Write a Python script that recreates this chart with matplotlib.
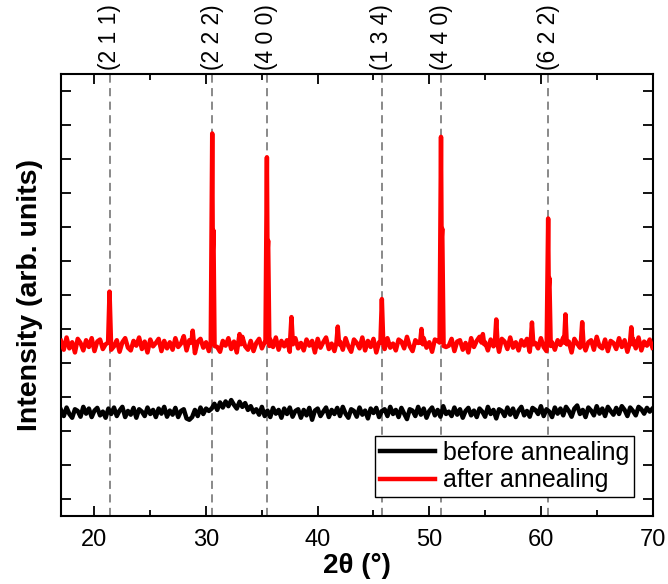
import matplotlib
matplotlib.use('Agg')
import matplotlib.pyplot as plt
import numpy as np

plt.rcParams['font.family'] = ['Liberation Sans', 'DejaVu Sans']

# reflections marked with dashed lines
hkl_labels = ['(2 1 1)', '(2 2 2)', '(4 0 0)', '(1 3 4)', '(4 4 0)', '(6 2 2)']
hkl_pos = [21.35, 30.55, 35.45, 45.75, 51.05, 60.65]

# baseline levels (arb. units) and hand-read wiggles (hundredths), 17..70 deg
after_level = 4.55
after_dev = [10, -16, 20, -12, 6, -24, 16, 4, -18, 12, -8, 18, -20, 8, 14, -14, 0, 24, -16, -6,
             12, -22, 6, 18, -10, -18, 10, -4, 20, -14, 8, -24, 14, -6, 4, 16, -20, 10, -12, 6,
             -16, 18, -8, 2, 24, -18, 12, -12, -26, 8, 16, -10, 6, -20, 14, 20, -8, -22, 10, -4,
             18, -14, 8, -24, 12, 22, -6, -16, 10, -20, 4, 16, -12, 6, -18, 14, -8, 20, -16, 10,
             -6, 12, -22, 8, 18, -12, 4, -18, 14, -4, 10, -24, 16, -10, 6, 20, -14, 2, -20, 12,
             8, -16, 18, -6, -22, 14, 4, -12, 20, -18, 10, -8, 16, -24, 6, 12, -14, 18, -10, 2,
             -18, 14, 8, -12, 22, -6, -20, 12, 4, -16, 18, -10, 6, -22, 14, 10, -14, 20, -8, -4,
             16, -20, 8, 12, -16, 4, -24, 18, -8, 10, 22, -12, 6, -18, 14, -6, 2, -22, 16, 8,
             -14, 20, -10, 6, -18, 12, -4, 16, -22, 10, 4, -12, 18, -8, -20, 14, 6, -16, 12, -2,
             20, -14, 8, -24, 16, 2, -10, 18, -18, 6, 12, -16, 22, -6, -12, 14, -20, 10, 4, -14,
             18, -8, 12, -22, 6, 16, -12, 20, -18, 8, -4, 14, -10]

before_level = 2.55
before_dev = [7, -11, 14, -5, -16, 9, 4, -13, 16, -4, 11, -14, 5, 13, -9, 2, -16, 11, -5, 14,
              -11, 5, 16, -14, 4, -7, 13, -16, 9, 2, -11, 14, -5, 7, -14, 11, -4, 16, -13, 5,
              -7, 13, -14, 4, 9, -18, -22, -14, 7, -11, 14, -5, 11, 4, 11, 25, 7, 29, 14, 32,
              18, 36, 22, 11, 31, 16, 27, 7, 18, 0, 9, -7, 16, -11, 5, -14, 13, -4, 7, -16,
              11, -5, 14, -13, 4, 9, -16, 7, -9, 13, -22, 5, 11, -11, 2, 14, -14, 7, -5, 13,
              -11, 16, -4, -16, 9, 4, -13, 14, -7, 5, -18, 11, -2, 13, -14, 4, 9, -11, 16, -5,
              7, -14, 13, -4, -20, 9, 5, -11, 16, -7, 11, -16, 4, 14, -9, 7, -13, 18, -5, 2,
              -11, 14, -7, 9, -16, 4, 13, -9, 5, -14, 11, 2, -13, 16, -5, 7, -18, 9, 4, -11,
              14, -7, 11, -14, 5, 16, -9, 4, -13, 13, 7, -5, 18, -11, 9, 2, -14, 14, -4, 11,
              -9, 16, 4, -13, 11, 20, -5, 7, -14, 14, 5, -9, 18, -4, 11, -11, 16, 4, -7, 13,
              -5, 18, 7, -11, 14, 4, -9, 16, 9, -4, 13, 2, 11]

# peaks of the annealed film
peak_x = [[21.22, 21.35, 21.48],
          [28.68, 28.8, 28.92],
          [30.42, 30.55, 30.6, 30.66, 30.76],
          [32.88, 33.0, 33.12],
          [35.32, 35.45, 35.5, 35.56, 35.67],
          [37.52, 37.65, 37.78],
          [41.68, 41.8, 41.92],
          [45.62, 45.75, 45.88],
          [49.18, 49.3, 49.42],
          [50.92, 51.05, 51.1, 51.16, 51.28],
          [54.68, 54.8, 54.92],
          [55.88, 56.0, 56.12],
          [59.08, 59.2, 59.32],
          [60.52, 60.65, 60.7, 60.76, 60.88],
          [62.08, 62.2, 62.32],
          [63.58, 63.7, 63.82],
          [67.98, 68.1, 68.22]]
peak_y = [[4.6, 6.1, 4.6],
          [4.6, 4.95, 4.55],
          [4.6, 10.75, 7.3, 7.9, 4.5],
          [4.6, 4.85, 4.55],
          [4.6, 10.05, 7.2, 7.6, 4.5],
          [4.6, 5.35, 4.55],
          [4.6, 5.07, 4.55],
          [4.6, 5.88, 4.55],
          [4.6, 5.0, 4.55],
          [4.6, 10.65, 7.6, 7.95, 4.5],
          [4.6, 4.85, 4.55],
          [4.6, 5.28, 4.55],
          [4.6, 5.19, 4.55],
          [4.6, 8.25, 6.2, 6.5, 4.5],
          [4.6, 5.43, 4.55],
          [4.6, 5.2, 4.55],
          [4.6, 5.05, 4.55]]

# build traces
x_before = np.linspace(17, 70, len(before_dev))
y_before = before_level + np.array(before_dev) / 100.0

x_grid = np.linspace(17, 70, len(after_dev))
y_grid = after_level + np.array(after_dev) / 100.0
keep = np.ones(len(x_grid), dtype=bool)
for px in peak_x:
    keep &= ~((x_grid >= px[0]) & (x_grid <= px[-1]))
x_after = np.concatenate([x_grid[keep]] + [np.array(p) for p in peak_x])
y_after = np.concatenate([y_grid[keep]] + [np.array(p) for p in peak_y])
order = np.argsort(x_after)
x_after, y_after = x_after[order], y_after[order]

fig = plt.figure(figsize=(6.68, 5.84), dpi=100)
ax = fig.add_axes([0.0913, 0.1164, 0.8855, 0.757])

for pos, lab in zip(hkl_pos, hkl_labels):
    ax.axvline(pos, color='#808080', lw=1.3, dashes=(4.5, 3), zorder=1)
    ax.text(pos, 1.008, lab, rotation=90, ha='center', va='bottom',
            fontsize=16.5, transform=ax.get_xaxis_transform())

ax.plot(x_before, y_before, color='black', lw=3.2, label='before annealing', zorder=2)
ax.plot(x_after, y_after, color='red', lw=3.2, label='after annealing', zorder=3)

ax.set_xlim(17, 70)
ax.set_ylim(-0.5, 12.5)
ax.set_xticks(np.arange(20, 71, 10))
ax.set_xticks(np.arange(20, 71, 5), minor=True)
ax.set_yticks(np.arange(0, 13, 1))
ax.set_yticklabels([])
ax.tick_params(which='both', direction='in', top=True, right=True, width=1.3,
               labelsize=17, pad=9)
ax.tick_params(which='major', length=7)
ax.tick_params(which='minor', length=4.5)
for s in ax.spines.values():
    s.set_linewidth(1.5)

ax.set_xlabel('2θ (°)', fontsize=20, fontweight='bold', labelpad=2)
ax.set_ylabel('Intensity (arb. units)', fontsize=20.5, fontweight='bold')
ax.yaxis.set_label_coords(-0.030, 0.5)

leg = ax.legend(loc='lower right', fontsize=18, frameon=True, fancybox=False,
                edgecolor='black', framealpha=1, handlelength=2.2,
                handletextpad=0.3, borderpad=0.2, labelspacing=0.15,
                borderaxespad=0.75)
leg.get_frame().set_linewidth(1.0)

plt.savefig('out.png', dpi=100)
